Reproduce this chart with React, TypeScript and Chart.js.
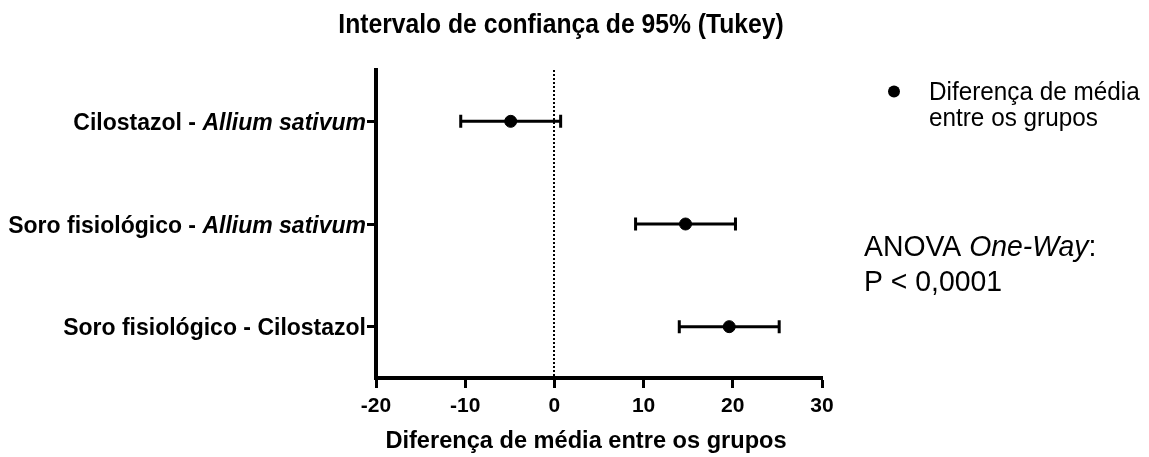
import React, { useEffect, useRef } from 'react';
import { Chart, registerables } from 'chart.js';

Chart.register(...registerables);

const FONT = '"Liberation Sans", Arial, Helvetica, sans-serif';

const chartTitle = 'Intervalo de confiança de 95% (Tukey)';
const xAxisTitle = 'Diferença de média entre os grupos';
const categories = [
  'Cilostazol - Allium sativum',
  'Soro fisiológico - Allium sativum',
  'Soro fisiológico - Cilostazol',
];
const italicTerm = 'Allium sativum';
const meanDiff = [-4.9, 14.7, 19.6];
const lowerCI = [-10.5, 9.1, 14.0];
const upperCI = [0.7, 20.3, 25.2];
const xMin = -20;
const xMax = 30;
const xStep = 10;
const legendLines = ['Diferença de média', 'entre os grupos'];
const anovaLine1 = [
  { text: 'ANOVA ', italic: false },
  { text: 'One-Way', italic: true },
  { text: ':', italic: false },
];
const anovaLine2 = 'P < 0,0001';

function stretchedText(ctx: any, text: string, x: number, baseline: number, sy: number) {
  ctx.save();
  ctx.translate(x, baseline);
  ctx.scale(1, sy);
  ctx.fillText(text, 0, 0);
  ctx.restore();
}

const overlayPlugin = {
  id: 'overlay',
  beforeDatasetsDraw(chart: any) {
    const { ctx, chartArea, scales } = chart;
    const x = scales.x;
    const y = scales.y;
    ctx.save();
    // dotted zero line
    ctx.strokeStyle = '#000';
    ctx.lineWidth = 2;
    ctx.setLineDash([2, 2]);
    const x0 = Math.round(x.getPixelForValue(0));
    ctx.beginPath();
    ctx.moveTo(x0, chartArea.top);
    ctx.lineTo(x0, chartArea.bottom);
    ctx.stroke();
    ctx.setLineDash([]);
    // error bars (confidence intervals)
    ctx.lineWidth = 3;
    categories.forEach((_c, i) => {
      const py = y.getPixelForValue(i);
      const xl = x.getPixelForValue(lowerCI[i]);
      const xh = x.getPixelForValue(upperCI[i]);
      ctx.beginPath();
      ctx.moveTo(xl, py);
      ctx.lineTo(xh, py);
      ctx.moveTo(xl, py - 6.5);
      ctx.lineTo(xl, py + 6.5);
      ctx.moveTo(xh, py - 6.5);
      ctx.lineTo(xh, py + 6.5);
      ctx.stroke();
    });
    ctx.restore();
  },
  afterDraw(chart: any) {
    const { ctx, chartArea, scales } = chart;
    const y = scales.y;
    ctx.save();
    ctx.fillStyle = '#000';
    ctx.textBaseline = 'alphabetic';

    // title
    ctx.font = `bold 24.7px ${FONT}`;
    ctx.textAlign = 'center';
    stretchedText(ctx, chartTitle, 561, 33, 1.15);

    // x axis title
    ctx.font = `bold 23.6px ${FONT}`;
    stretchedText(ctx, xAxisTitle, 586, 448, 1.04);

    // y category labels with italic species name
    ctx.textAlign = 'left';
    const rightEdge = chartArea.left - 10;
    categories.forEach((label, i) => {
      const py = y.getPixelForValue(i) + 8.5;
      const idx = label.indexOf(italicTerm);
      const parts =
        idx >= 0
          ? [
              { t: label.slice(0, idx), it: false },
              { t: italicTerm, it: true },
              { t: label.slice(idx + italicTerm.length), it: false },
            ]
          : [{ t: label, it: false }];
      const fonts = parts.map((p) => `${p.it ? 'italic ' : ''}bold 23px ${FONT}`);
      let total = 0;
      parts.forEach((p, k) => {
        ctx.font = fonts[k];
        total += ctx.measureText(p.t).width;
      });
      let cx = rightEdge - total;
      parts.forEach((p, k) => {
        ctx.font = fonts[k];
        ctx.fillText(p.t, cx, py);
        cx += ctx.measureText(p.t).width;
      });
    });

    // legend
    ctx.beginPath();
    ctx.arc(894, 91.5, 6, 0, Math.PI * 2);
    ctx.fill();
    ctx.font = `24.3px ${FONT}`;
    stretchedText(ctx, legendLines[0], 929, 100, 1.04);
    stretchedText(ctx, legendLines[1], 929, 126, 1.04);

    // ANOVA annotation
    let ax = 864;
    anovaLine1.forEach((p) => {
      ctx.font = `${p.italic ? 'italic ' : ''}28.4px ${FONT}`;
      stretchedText(ctx, p.text, ax, 256, 1.06);
      ax += ctx.measureText(p.text).width;
    });
    ctx.font = `28.4px ${FONT}`;
    stretchedText(ctx, anovaLine2, 864, 291, 1.06);
    ctx.restore();
  },
};

export default function App() {
  const canvasRef = useRef<HTMLCanvasElement | null>(null);

  useEffect(() => {
    document.body.style.margin = '0';
    if (!canvasRef.current) return;
    const chart = new Chart(canvasRef.current, {
      type: 'line',
      data: {
        labels: categories,
        datasets: [
          {
            label: legendLines.join(' '),
            data: meanDiff,
            showLine: false,
            pointRadius: 6,
            pointHoverRadius: 6,
            pointBackgroundColor: '#000',
            pointBorderColor: '#000',
            pointBorderWidth: 1,
            borderColor: '#000',
            backgroundColor: '#000',
          },
        ],
      },
      options: {
        animation: false,
        responsive: true,
        maintainAspectRatio: false,
        indexAxis: 'y',
        layout: { padding: { left: 0, right: 327, top: 70, bottom: 0 } },
        plugins: {
          legend: { display: false },
          title: { display: false },
          tooltip: { enabled: false },
        },
        scales: {
          x: {
            type: 'linear',
            min: xMin,
            max: xMax,
            ticks: {
              stepSize: xStep,
              color: '#000',
              padding: 6,
              font: { family: FONT, size: 21, weight: 'bold' },
            },
            grid: {
              drawOnChartArea: false,
              drawTicks: true,
              tickLength: 10,
              tickWidth: 3,
              tickColor: '#000',
            },
            border: { display: true, color: '#000', width: 4 },
            afterFit(s: any) {
              s.height = 79;
            },
          },
          y: {
            type: 'category',
            labels: categories,
            offset: true,
            ticks: { color: 'rgba(0,0,0,0)' },
            grid: {
              drawOnChartArea: false,
              drawTicks: true,
              offset: false,
              tickLength: 9,
              tickWidth: 3,
              tickColor: '#000',
            },
            border: { display: true, color: '#000', width: 4 },
            afterFit(s: any) {
              s.width = 376;
            },
          },
        },
      },
      plugins: [overlayPlugin],
    } as any);
    return () => chart.destroy();
  }, []);

  return (
    <div style={{ position: 'relative', width: '1149px', height: '457px' }}>
      <canvas ref={canvasRef} />
    </div>
  );
}
